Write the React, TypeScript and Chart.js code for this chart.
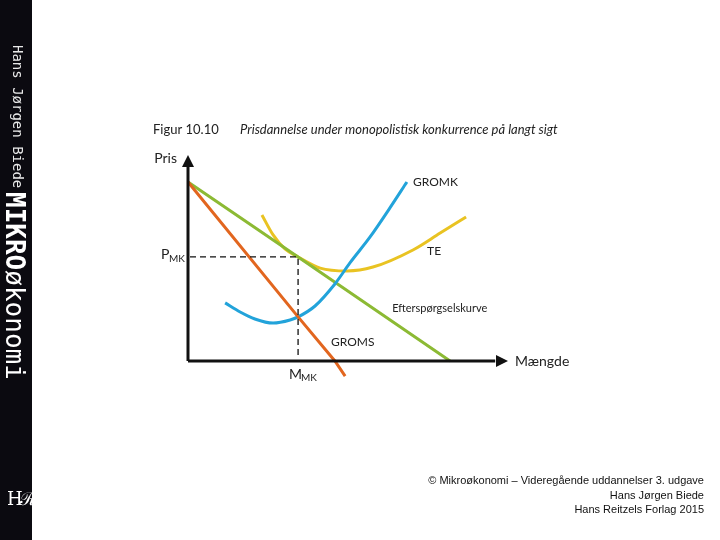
import React, { useEffect, useRef } from "react";
import { Chart, registerables } from "chart.js";

Chart.register(...registerables);

// Curves in data units (x: quantity 0..100, y: price -10..100)
const demandX = [0, 34.4, 81.9];
const demandY = [86.9, 50.5, 0];

const gromsX = [0, 34.4, 45.9, 49.1];
const gromsY = [86.9, 21.4, 0, -7.3];

const gromkX = [11.6, 16.3, 20.9, 26.6, 31.9, 34.4, 39.7, 45.9, 50.6, 56.9, 63.1, 68.4];
const gromkY = [28.2, 23.8, 20.4, 18.4, 19.9, 21.4, 26.7, 37.4, 47.6, 60.2, 74.3, 86.9];

const teX = [23.1, 26.6, 30.3, 34.4, 41.3, 49.7, 57.8, 70.3, 78.8, 86.9];
const teY = [70.9, 61.2, 54.4, 50.5, 45.1, 43.7, 45.6, 53.9, 62.1, 69.9];

const pMK = 50.5;
const mMK = 34.4;

const titleNumber = "Figur 10.10";
const titleText = "Prisdannelse under monopolistisk konkurrence på langt sigt";
const yAxisLabel = "Pris";
const xAxisLabel = "Mængde";
const curveLabels = ["GROMK", "TE", "Efterspørgselskurve", "GROMS"];

const footerLines = [
  "© Mikroøkonomi – Videregående uddannelser 3. udgave",
  "Hans Jørgen Biede",
  "Hans Reitzels Forlag 2015",
];

const zip = (xs: number[], ys: number[]) => xs.map((x, i) => ({ x, y: ys[i] }));

const FONT = "Lato, 'Open Sans', sans-serif";

const annotate = {
  id: "annotate",
  afterDatasetsDraw(chart: any) {
    const { ctx, scales } = chart;
    const xs = scales.x;
    const ys = scales.y;
    const px = (v: number) => xs.getPixelForValue(v);
    const py = (v: number) => ys.getPixelForValue(v);
    ctx.save();
    ctx.fillStyle = "#111";
    // arrows
    const ox = px(0), oy = py(0);
    const topY = py(100), rightX = px(100);
    ctx.beginPath();
    ctx.moveTo(ox, topY);
    ctx.lineTo(ox - 6, topY + 12);
    ctx.lineTo(ox + 6, topY + 12);
    ctx.closePath();
    ctx.fill();
    ctx.beginPath();
    ctx.moveTo(rightX, oy);
    ctx.lineTo(rightX - 12, oy - 6);
    ctx.lineTo(rightX - 12, oy + 6);
    ctx.closePath();
    ctx.fill();

    // dashed guides
    ctx.setLineDash([6, 4]);
    ctx.lineWidth = 1.3;
    ctx.strokeStyle = "#111";
    ctx.beginPath();
    ctx.moveTo(ox + 2, py(pMK));
    ctx.lineTo(px(mMK), py(pMK));
    ctx.lineTo(px(mMK), oy - 2);
    ctx.stroke();
    ctx.setLineDash([]);

    // labels
    ctx.fillStyle = "#222";
    ctx.textBaseline = "middle";
    ctx.font = `13px ${FONT}`;
    ctx.textAlign = "left";
    ctx.fillText(titleNumber, 153, 130);
    ctx.font = `italic 13px ${FONT}`;
    ctx.fillText(titleText, 240, 130);

    ctx.font = `14px ${FONT}`;
    ctx.textAlign = "right";
    ctx.fillText(yAxisLabel, 177, 158);
    ctx.textAlign = "left";
    ctx.fillText(xAxisLabel, rightX + 7, oy);

    // P_MK
    ctx.font = `14px ${FONT}`;
    ctx.fillText("P", 161, py(pMK) - 2);
    ctx.font = `10px ${FONT}`;
    ctx.fillText("MK", 169, py(pMK) + 2);
    // M_MK
    ctx.font = `14px ${FONT}`;
    ctx.fillText("M", px(mMK) - 9, oy + 13);
    ctx.font = `10px ${FONT}`;
    ctx.fillText("MK", px(mMK) + 3, oy + 17);

    ctx.font = `12px ${FONT}`;
    ctx.fillText(curveLabels[0], px(70.3), py(86.9));
    ctx.fillText(curveLabels[1], px(74.7), py(53.4));
    ctx.font = `11px ${FONT}`;
    ctx.fillText(curveLabels[2], px(63.8), py(25.7));
    ctx.font = `12px ${FONT}`;
    ctx.fillText(curveLabels[3], px(44.7), py(9.2));
    ctx.restore();
  },
};

export default function App() {
  const ref = useRef<HTMLCanvasElement | null>(null);

  useEffect(() => {
    if (!ref.current) return;
    const lw = 3;
    const chart = new Chart(ref.current, {
      type: "line",
      data: {
        datasets: [
          {
            label: "y-akse",
            data: [{ x: 0, y: 0 }, { x: 0, y: 95 }],
            borderColor: "#111",
            borderWidth: 3,
            pointRadius: 0,
            clip: false,
          },
          {
            label: "x-akse",
            data: [{ x: 0, y: 0 }, { x: 96, y: 0 }],
            borderColor: "#111",
            borderWidth: 3,
            pointRadius: 0,
            clip: false,
          },
          {
            label: "GROMS",
            data: zip(gromsX, gromsY),
            borderColor: "#e2661f",
            borderWidth: lw,
            pointRadius: 0,
            clip: false,
          },
          {
            label: "GROMK",
            data: zip(gromkX, gromkY),
            borderColor: "#22a3da",
            borderWidth: lw,
            pointRadius: 0,
            cubicInterpolationMode: "monotone",
            clip: false,
          },
          {
            label: "Efterspørgselskurve",
            data: zip(demandX, demandY),
            borderColor: "#8cba34",
            borderWidth: lw,
            pointRadius: 0,
            clip: false,
          },
          {
            label: "TE",
            data: zip(teX, teY),
            borderColor: "#e9c322",
            borderWidth: lw,
            pointRadius: 0,
            cubicInterpolationMode: "monotone",
            clip: false,
          },
        ],
      },
      options: {
        animation: false,
        responsive: false,
        maintainAspectRatio: false,
        layout: { padding: { left: 188, right: 212, top: 155, bottom: 158.4 } },
        plugins: { legend: { display: false }, tooltip: { enabled: false }, title: { display: false } },
        scales: {
          x: { type: "linear", min: 0, max: 100, display: false },
          y: { type: "linear", min: -10, max: 100, display: false },
        },
        elements: { line: { borderCapStyle: "butt" } },
      },
      plugins: [annotate],
    } as any);
    return () => chart.destroy();
  }, []);

  return (
    <div style={{ position: "fixed", left: 0, top: 0, width: 720, height: 540, background: "#fff", overflow: "hidden" }}>
      <canvas ref={ref} width={720} height={540} style={{ position: "absolute", left: 0, top: 0, width: 720, height: 540 }} />
      <div
        style={{
          position: "absolute",
          left: 0,
          top: 0,
          width: 32,
          height: 540,
          background: "#0b0a10",
        }}
      >
        <div
          style={{
            position: "absolute",
            left: 5,
            top: 45,
            writingMode: "vertical-rl",
            fontFamily: "'DejaVu Sans Mono', monospace",
            fontSize: 14,
            color: "#e8e8e8",
            lineHeight: "26px",
            whiteSpace: "nowrap",
          }}
        >
          Hans Jørgen Biede
        </div>
        <div
          style={{
            position: "absolute",
            left: 0,
            top: 192,
            width: 32,
            writingMode: "vertical-rl",
            fontFamily: "'DejaVu Sans Mono', monospace",
            fontSize: 26,
            color: "#ffffff",
            lineHeight: "34px",
            whiteSpace: "nowrap",
          }}
        >
          <span style={{ fontWeight: "bold" }}>MIKRO</span>økonomi
        </div>
        <div
          style={{
            position: "absolute",
            left: 7,
            top: 486,
            fontFamily: "'DejaVu Serif', serif",
            fontSize: 18,
            color: "#ffffff",
            letterSpacing: -3,
          }}
        >
          Hℛ
        </div>
      </div>
      <div
        style={{
          position: "absolute",
          right: 16,
          top: 473,
          textAlign: "right",
          fontFamily: "'Liberation Sans', sans-serif",
          fontSize: 11,
          lineHeight: "14.5px",
          color: "#111",
          letterSpacing: 0,
        }}
      >
        {footerLines.map((l, i) => (
          <div key={i}>{l}</div>
        ))}
      </div>
    </div>
  );
}
